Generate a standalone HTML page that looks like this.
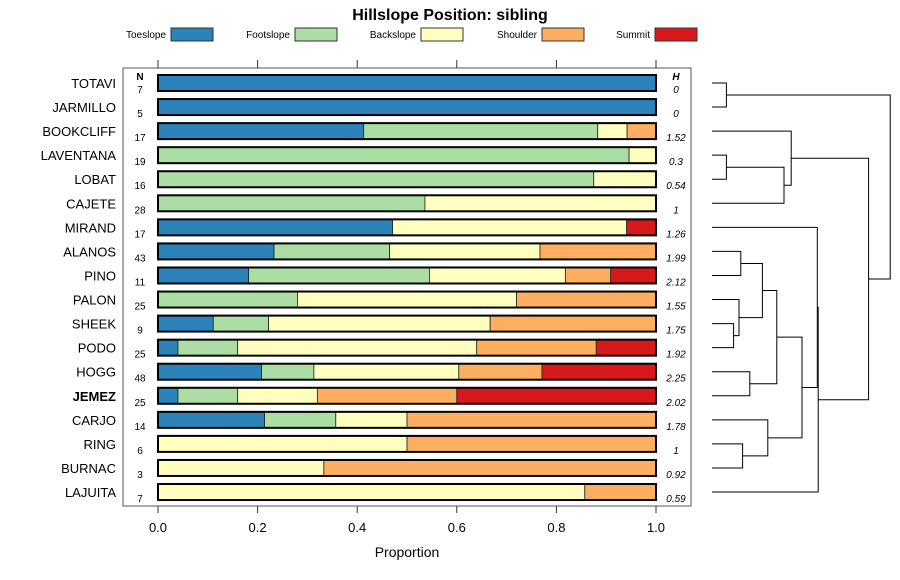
<!DOCTYPE html>
<html><head><meta charset="utf-8">
<style>
body{margin:0;background:#fff;}
svg{display:block;font-family:"Liberation Sans",sans-serif;}
</style></head>
<body>
<svg id="chart" width="900" height="580" viewBox="0 0 900 580" xmlns="http://www.w3.org/2000/svg">
<text x="450" y="20" text-anchor="middle" font-size="16" font-weight="bold">Hillslope Position: sibling</text>
<g id="legend"></g>
<rect x="123" y="68" width="568" height="438" fill="none" stroke="#555" stroke-width="1"/>
<g id="axes"></g>
<g id="bars"></g>
<g id="dendro" stroke="#000" stroke-width="1" fill="none"></g>
<text x="140" y="80" text-anchor="middle" font-size="10" font-weight="bold">N</text>
<text x="676" y="80" text-anchor="middle" font-size="10" font-weight="bold" font-style="italic">H</text>
<text x="407" y="557" text-anchor="middle" font-size="14">Proportion</text>
</svg>
<script>
const sites = ["TOTAVI","JARMILLO","BOOKCLIFF","LAVENTANA","LOBAT","CAJETE","MIRAND","ALANOS","PINO","PALON","SHEEK","PODO","HOGG","JEMEZ","CARJO","RING","BURNAC","LAJUITA"];
const nValues = [7,5,17,19,16,28,17,43,11,25,9,25,48,25,14,6,3,7];
const hValues = ["0","0","1.52","0.3","0.54","1","1.26","1.99","2.12","1.55","1.75","1.92","2.25","2.02","1.78","1","0.92","0.59"];
const classes = ["Toeslope","Footslope","Backslope","Shoulder","Summit"];
const colors = ["#2b83ba","#abdda4","#ffffbf","#fdae61","#d7191c"];
const toeslope  = [1,1,0.413,0,0,0,0.471,0.233,0.182,0,0.111,0.04,0.208,0.04,0.214,0,0,0];
const footslope = [0,0,0.47,0.946,0.875,0.536,0,0.232,0.363,0.28,0.111,0.12,0.105,0.12,0.143,0,0,0];
const backslope = [0,0,0.059,0.054,0.125,0.464,0.47,0.302,0.273,0.44,0.445,0.48,0.291,0.16,0.143,0.5,0.333,0.857];
const shoulder  = [0,0,0.058,0,0,0,0,0.233,0.091,0.28,0.333,0.24,0.167,0.28,0.5,0.5,0.667,0.143];
const summit    = [0,0,0,0,0,0,0.059,0,0.091,0,0,0.12,0.229,0.4,0,0,0,0];
const xTicks = [0,0.2,0.4,0.6,0.8,1.0];
const xTickLabels = ["0.0","0.2","0.4","0.6","0.8","1.0"];
// dendrogram: leaf indices, merges [left, right, height]; negative = leaf index (-(i+1)), positive = merge index (1-based)
const merges = [
 [-1,-2,0.08],[-4,-5,0.08],[2,-6,0.4],[-3,3,0.44],
 [-8,-9,0.16],[-11,-12,0.12],[-10,6,0.15],[5,7,0.28],
 [-13,-14,0.21],[8,9,0.36],[-16,-17,0.17],[-15,11,0.31],
 [10,12,0.50],[-7,13,0.585],[14,-18,0.59],[4,15,0.87],[1,16,0.99]
];
const NS="http://www.w3.org/2000/svg";
const svg=document.getElementById('chart');
function mk(tag,attrs,parent,text){const e=document.createElementNS(NS,tag);for(const k in attrs)e.setAttribute(k,attrs[k]);if(text!==undefined)e.textContent=text;parent.appendChild(e);return e;}
const xScale=v=>158+v*498;
const yScale=i=>83+i*24.06;
const series=[toeslope,footslope,backslope,shoulder,summit];

// legend
const lg=document.getElementById('legend');
const legX=[171,295,421,542,655];
classes.forEach((c,k)=>{
  const t=mk('text',{x:legX[k]-5,y:38,'text-anchor':'end','font-size':10},lg,c);
  
  
  const r=mk('rect',{x:legX[k],y:28,width:42,height:13,fill:colors[k],stroke:'#333','stroke-width':1},lg);
  
  
});

// axes
const ax=document.getElementById('axes');
xTicks.forEach((v,i)=>{
  const x=xScale(v);
  const t1=mk('line',{x1:x,x2:x,y1:60,y2:68,stroke:'#333'},ax);
  
  
  const t2=mk('line',{x1:x,x2:x,y1:506,y2:513,stroke:'#333'},ax);
  
  
  const l=mk('text',{x:x,y:532,'text-anchor':'middle','font-size':13},ax,xTickLabels[i]);
  
  
});

// bars
const bg=document.getElementById('bars');
sites.forEach((s,i)=>{
  const y=yScale(i);
  const lab=mk('text',{x:116,y:y+5,'text-anchor':'end','font-size':13,'font-weight':s==='JEMEZ'?'bold':'normal'},bg,s);
  
  
  const n=mk('text',{x:140,y:y+10,'text-anchor':'middle','font-size':10},bg,String(nValues[i]));
  
  
  const h=mk('text',{x:676,y:y+10,'text-anchor':'middle','font-size':10,'font-style':'italic'},bg,hValues[i]);
  
  
  let cum=0;
  series.forEach((arr,k)=>{
    const v=arr[i];
    if(v>0){
      const r=mk('rect',{x:xScale(cum),y:y-8,width:xScale(cum+v)-xScale(cum),height:16,fill:colors[k],stroke:'#222','stroke-width':0.8},bg);
      
      
    }
    cum+=v;
  });
  const o=mk('rect',{x:xScale(0),y:y-8,width:xScale(cum)-xScale(0),height:16,fill:'none',stroke:'#000','stroke-width':2},bg);
  
  
});

// dendrogram
const dg=document.getElementById('dendro');
const hx=h=>712+h*180;
const nodes=[];
function pos(ref){ if(ref<0) return {x:712,y:yScale(-ref-1)}; return nodes[ref-1]; }
merges.forEach(m=>{
  const a=pos(m[0]),b=pos(m[1]),x=hx(m[2]);
  const p=mk('path',{d:`M${a.x},${a.y}H${x}V${b.y}H${b.x}`},dg);
  
  
  nodes.push({x:x,y:(a.y+b.y)/2});
});
</script>
</body></html>
